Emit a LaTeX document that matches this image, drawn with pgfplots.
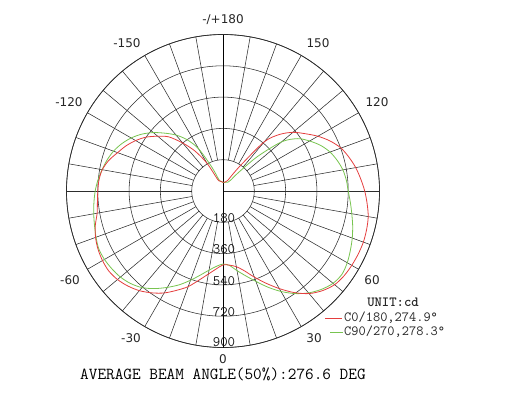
\documentclass[border=0pt]{standalone}
\usepackage{fontspec}
\usepackage{pgfplots}
\usepackage{pgfplotstable}
\pgfplotsset{compat=1.18}
\usepgfplotslibrary{polar}
\newfontfamily\lbl{DejaVu Sans}
\definecolor{cz}{RGB}{228,62,62}
\definecolor{cn}{RGB}{120,196,80}
\definecolor{gridc}{RGB}{45,45,45}

% intensity (cd) vs angle, 0 = straight down, positive to the right
\pgfplotstableread{
deg  red  green
-180 50  50
-175 52  52
-170 55  55
-165 58  60
-160 62  70
-155 75  150
-150 185 280
-145 280 360
-140 360 420
-135 440 470
-130 490 523
-125 540 570
-120 580 610
-115 615 643
-110 645 670
-105 680 690
-100 705 706
-95  716 722
-90  720 735
-85  725 745
-80  735 755
-75  760 765
-70  780 777
-65  793 788
-60  800 787
-55  802 780
-50  792 770
-45  773 752
-40  748 725
-35  715 685
-30  677 640
-25  630 595
-20  585 546
-15  530 500
-10  485 462
-5   450 435
0    425 420
5    428 430
10   442 465
15   475 505
20   527 553
25   585 610
30   648 667
35   713 720
40   770 765
45   810 800
50   838 826
55   850 835
60   855 825
65   858 808
70   859 791
75   855 772
80   848 752
85   832 735
90   815 720
95   795 712
100  775 700
105  750 680
110  722 655
115  680 620
120  630 575
125  575 525
130  525 440
135  460 280
140  370 140
145  190 75
150  110 60
155  70  55
160  60  53
165  55  52
170  52  50
175  50  50
180  50  50
}\intens

\begin{document}
\begin{tikzpicture}
\useasboundingbox (0pt,0pt) rectangle (510pt,-407pt);
\begin{polaraxis}[
  at={(223pt,-191pt)}, anchor=center,
  scale only axis, width=313pt, height=313pt,
  xmin=0, xmax=360, ymin=0, ymax=900,
  xtick={0,10,...,350}, ytick={180,360,540,720,900},
  xticklabels={}, yticklabels={},
  xticklabel style={inner sep=0pt}, yticklabel style={inner sep=0pt},
  major tick length=0pt,
  xmajorgrids=false, ymajorgrids=true,
  major grid style={gridc, line width=0.55pt},
  axis line style={gridc, line width=0.7pt},
]
  \pgfplotsinvokeforeach{0,10,...,350}{
    \draw[gridc, line width=0.55pt] (axis cs:#1,180) -- (axis cs:#1,900);
  }
  \draw[black, line width=0.9pt] (axis cs:90,900) -- (axis cs:270,900);
  \addplot[cn, line width=0.8pt, smooth] table[x expr=\thisrow{deg}-90, y=green] {\intens};
  \addplot[cz, line width=0.8pt, smooth] table[x expr=\thisrow{deg}-90, y=red] {\intens};
\end{polaraxis}

% angle labels
\begin{scope}[every node/.style={font=\lbl\fontsize{12}{14}\selectfont, text=black!85}]
  \node at (223pt,-20pt) {-/+180};
  \node at (318pt,-43pt) {150};
  \node at (127pt,-43pt) {-150};
  \node at (377pt,-102pt) {120};
  \node at (69pt,-102pt) {-120};
  \node at (372pt,-280pt) {60};
  \node at (70pt,-280pt) {-60};
  \node at (314pt,-338pt) {30};
  \node at (131pt,-338pt) {-30};
  \node[inner sep=0pt] at (223pt,-359pt) {0};
\end{scope}

% ring values
\begin{scope}[every node/.style={font=\ttfamily\fontsize{14.5}{16}\selectfont, text=black!90, inner sep=0pt}]
  \node at (224pt,-218pt) {180};
  \node at (224pt,-249pt) {360};
  \node at (224pt,-281pt) {540};
  \node at (224pt,-312pt) {720};
  \node at (224pt,-342pt) {900};
\end{scope}

% legend
\node[font=\ttfamily\bfseries\fontsize{14}{16}\selectfont, text=black!85] at (393pt,-302pt) {UNIT:cd};
\draw[cz, line width=0.8pt] (325pt,-318pt) -- (342pt,-318pt);
\draw[cn, line width=0.8pt] (330pt,-332pt) -- (343pt,-332pt);
\node[anchor=west, inner sep=1pt, font=\ttfamily\fontsize{14}{16}\selectfont, text=black!85] at (343pt,-318pt) {C0/180,274.9°};
\node[anchor=west, inner sep=1pt, font=\ttfamily\fontsize{14}{16}\selectfont, text=black!85] at (343pt,-332pt) {C90/270,278.3°};

\node[anchor=west, inner sep=0pt, font=\ttfamily\fontsize{16.8}{18}\selectfont, text=black] at (80pt,-374pt) {AVERAGE BEAM ANGLE(50\%):276.6 DEG};
\end{tikzpicture}
\end{document}
